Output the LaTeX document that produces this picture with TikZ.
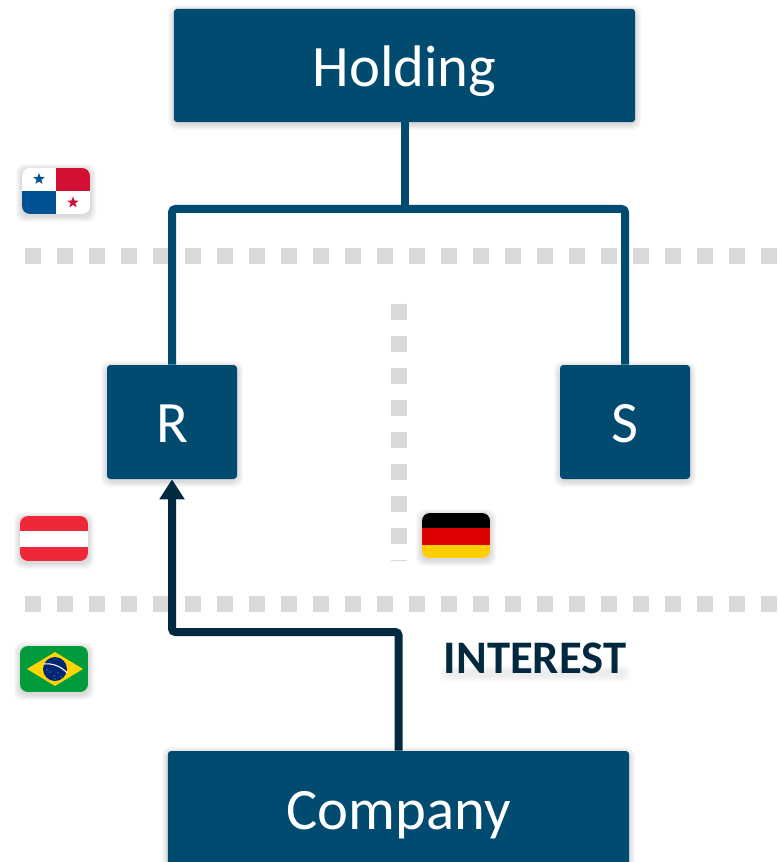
\documentclass[tikz,border=0pt]{standalone}
\usepackage{fontspec}
\setmainfont{Carlito}
\usetikzlibrary{shapes.geometric,arrows.meta}
\definecolor{boxblue}{HTML}{014A70}
\definecolor{darknavy}{HTML}{02293F}
\definecolor{dotgrey}{HTML}{D9D9D9}
\definecolor{panblue}{RGB}{0,82,147}
\definecolor{panred}{RGB}{210,16,52}
\definecolor{autred}{RGB}{237,41,57}
\definecolor{brgreen}{RGB}{0,155,58}
\definecolor{bryellow}{RGB}{254,213,0}
\definecolor{brblue}{RGB}{0,39,118}
\definecolor{degold}{RGB}{255,206,0}
\definecolor{dered}{RGB}{221,0,0}
\newcommand{\softshadow}[4]{%
  \foreach \g in {6,5,4,3,2,1}{%
    \fill[black,opacity=0.024,rounded corners=6] (#1-\g,#2-\g+2) rectangle (#3+\g,#4+\g+2);
  }}
\newcommand{\flagbase}[4]{%
  \softshadow{#1}{#2}{#3}{#4}%
  \clip[rounded corners=6] (#1,#2) rectangle (#3,#4);
}
\newcommand{\lowered}[2]{\raisebox{-#1}[\height][\depth]{#2}}
\tikzset{
  entity/.style={fill=boxblue,text=white,rounded corners=2.5,inner sep=0,font=\fontsize{44}{50}\selectfont,anchor=center},
  link/.style={draw=boxblue,line width=6pt,rounded corners=2.5},
  flow/.style={draw=darknavy,line width=6pt,rounded corners=2.5,-{Triangle[length=15pt,width=18pt]}},
  border/.style={draw=dotgrey,line width=12pt,dash pattern=on 12pt off 12pt},
  starmark/.style={star,star points=5,star point ratio=2.4,inner sep=0,minimum size=9pt}
}
\begin{document}
\begin{tikzpicture}[x=0.75pt,y=-0.75pt]
\clip (0,0) rectangle (778,862);
\fill[white] (0,0) rectangle (778,862);
% borders
\coordinate (b1a) at (25,256); \coordinate (b1b) at (778,256);
\coordinate (b2a) at (25,604); \coordinate (b2b) at (778,604);
\coordinate (b3a) at (399,304); \coordinate (b3b) at (399,561);
\draw[border] (b1a) -- (b1b);
\draw[border] (b2a) -- (b2b);
\draw[border] (b3a) -- (b3b);
% shadows
\softshadow{174}{9}{635}{122}
\softshadow{107}{365}{237}{479}
\softshadow{560}{365}{690}{479}
\softshadow{168}{751}{629}{880}
% nodes
\node[entity,minimum width=346pt,minimum height=85pt] (holding) at (404.5,65.5) {\lowered{4pt}{Holding}};
\node[entity,minimum width=97.5pt,minimum height=85.5pt] (r) at (172,422) {\lowered{1.5pt}{R}};
\node[entity,minimum width=97.5pt,minimum height=85.5pt] (s) at (625,422) {\lowered{1.5pt}{S}};
\node[entity,minimum width=346pt,minimum height=88.5pt] (company) at (398.5,810) {\lowered{4pt}{Company}};
% connectors
\coordinate (hub) at (holding.south |- 0,209);
\coordinate (elbow) at (company.north |- 0,632);
\draw[link] (holding.south) -- (hub);
\draw[link] (r.north) |- (hub) -| (s.north);
\draw[flow] (company.north) -- (elbow) -| (r.south);
% label
\foreach \g in {6,5,4,3,2,1}{\fill[black,opacity=0.012,rounded corners=4] (446-\g,671-\g) rectangle (625+\g,676+\g);}
\node[text=darknavy,inner sep=0,font=\fontsize{35}{40}\selectfont\bfseries] (interest) at (535,658) {INTEREST};
% Panama
\begin{scope}
\flagbase{22}{168}{90}{214}
\fill[white] (22,168) rectangle (90,214);
\fill[panred] (56,168) rectangle (90,191);
\fill[panblue] (22,191) rectangle (56,214);
\node[starmark,fill=panblue] (pstar1) at (39,179) {};
\node[starmark,fill=panred] (pstar2) at (73,202.5) {};
\end{scope}
% Austria
\begin{scope}
\flagbase{20}{516}{88}{561}
\fill[white] (20,516) rectangle (88,561);
\fill[autred] (20,516) rectangle (88,531);
\fill[autred] (20,547) rectangle (88,561);
\end{scope}
% Brazil
\begin{scope}
\flagbase{20}{646}{88}{692}
\fill[brgreen] (20,646) rectangle (88,692);
\fill[bryellow] (27,669) -- (55,652) -- (83,669) -- (55,686) -- cycle;
\fill[brblue] (55,669) circle [radius=12];
\draw[white,line width=0.8pt] (44,664) .. controls (52,663) and (61,666) .. (67,673);
\foreach \p/\q in {50/672,54/676,58/673,61/677,47/670,55/679}{\fill[white,opacity=0.6] (\p,\q) circle [radius=0.6];}
\end{scope}
% Germany
\begin{scope}
\flagbase{422}{513}{490}{558}
\fill[black] (422,513) rectangle (490,528);
\fill[dered] (422,528) rectangle (490,544.5);
\fill[degold] (422,544.5) rectangle (490,558);
\end{scope}
\end{tikzpicture}
\end{document}
